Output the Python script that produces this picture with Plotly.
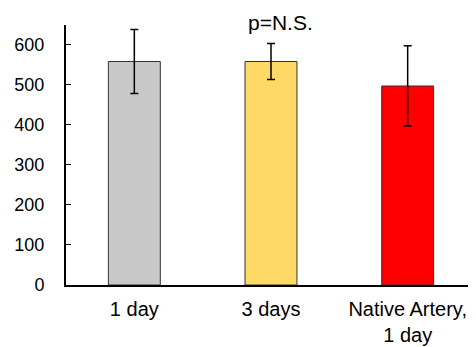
import plotly.graph_objects as go

categories = ["1 day", "3 days", "Native Artery,<br>1 day"]
values = [557, 557, 496]
errors = [80, 45, 100]
colors = ["#C8C8C8", "#FFD966", "#FF0000"]
y_ticks = [0, 100, 200, 300, 400, 500, 600]

fig = go.Figure()
fig.add_trace(go.Bar(
    x=categories, y=values,
    marker=dict(color=colors, line=dict(color="#333333", width=1)),
    error_y=dict(type="data", array=errors, visible=True, color="black", thickness=1.5, width=4),
    width=0.38,
))
fig.add_annotation(x=1, y=1.008, xref="x", yref="paper", yanchor="middle", text="p=N.S.",
                   showarrow=False, xshift=9, font=dict(size=21, color="black"))
# page body has an 8px margin; compensate so the chart lands where the reference has it
fig.update_layout(
    width=468, height=339,
    margin=dict(l=58, r=0, t=17, b=62),
    plot_bgcolor="white", paper_bgcolor="white",
    font=dict(family="Liberation Sans, Arial", size=20, color="black"),
    showlegend=False,
)
fig.update_xaxes(range=[-0.5, 2.5], showline=True, linecolor="black", linewidth=2,
                 ticks="", showgrid=False, zeroline=False, automargin=False,
                 ticklabelstandoff=5, tickfont=dict(size=20))
fig.update_yaxes(range=[0, 648], tickvals=y_ticks, showline=True, linecolor="black", linewidth=2,
                 ticks="inside", ticklen=5, tickwidth=1, tickcolor="black",
                 showgrid=False, zeroline=False, ticklabelstandoff=16, automargin=False,
                 tickfont=dict(size=18))
fig.write_html("out.html")
